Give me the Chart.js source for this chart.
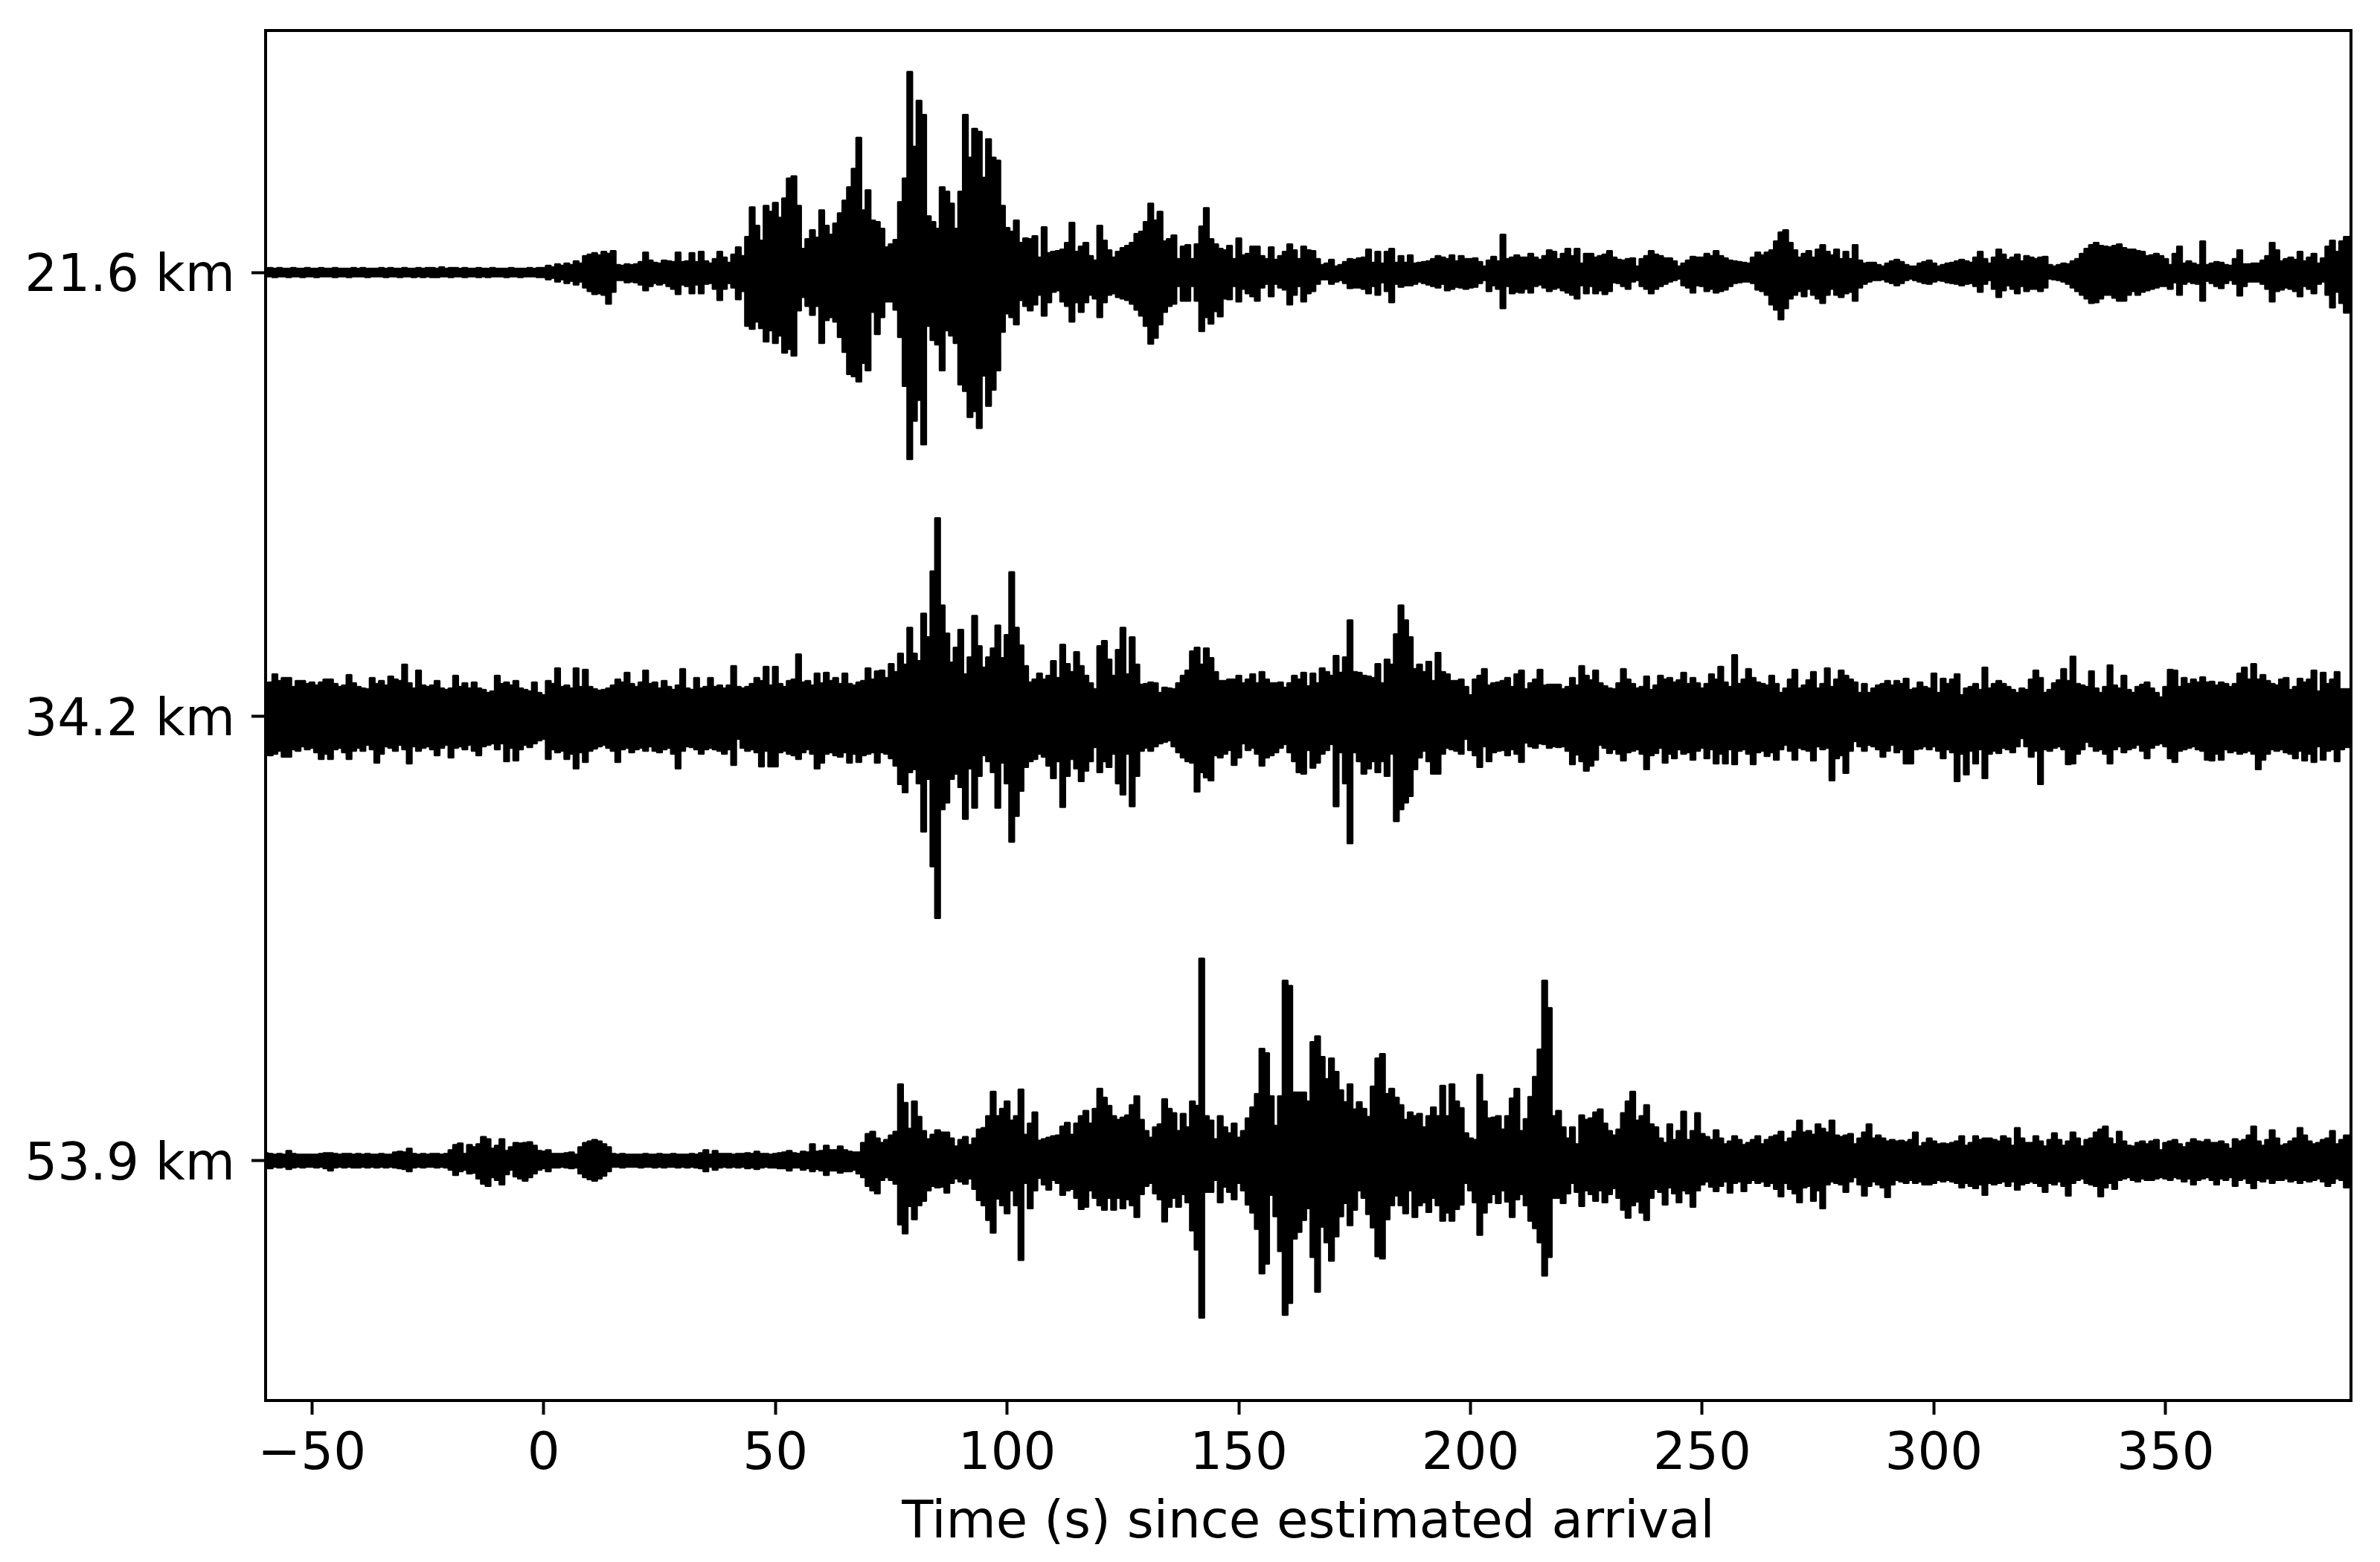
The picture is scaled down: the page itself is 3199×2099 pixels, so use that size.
<!DOCTYPE html>
<html>
<head>
<meta charset="utf-8">
<title>Waveforms</title>
<script src="https://cdn.jsdelivr.net/npm/chart.js@4"></script>
<style>
  html, body { margin: 0; padding: 0; background: #fff; }
  canvas { display: block; }
</style>
</head>
<body>
<canvas id="chart" width="3199" height="2099"></canvas>
<script>
// one sample per second, -60 s .. 389 s, ten values per row
const firstSecond = -60;
const distanceLabels = ['21.6 km', '34.2 km', '53.9 km'];
const traceOffsets = [1200, 600, 0];
const timeTicks = [-50, 0, 50, 100, 150, 200, 250, 300, 350];

const upper216 = [
  5,6,5,6,5,5,6,5,5,6, 5,5,6,5,5,6,5,5,5,6, 5,6,5,5,5,6,5,6,5,5,
  6,5,5,6,5,6,6,5,7,5, 6,6,5,6,5,5,6,5,5,6, 5,5,5,6,5,5,5,6,5,6,
  6,9,7,11,9,12,10,15,12,22,
  24,26,23,28,25,29,10,9,11,10,
  11,14,27,16,13,12,16,15,14,27,
  14,15,26,14,28,15,12,18,28,20,
  13,24,34,22,48,88,63,43,90,82,
  94,74,100,127,130,90,32,45,57,47,
  84,63,51,66,80,97,115,140,182,84,
  111,70,68,59,34,38,44,95,127,271,
  170,232,213,76,68,59,115,109,93,59,
  109,213,155,194,190,128,180,155,151,90,
  60,55,70,40,46,45,49,20,61,26,
  28,29,31,40,67,28,35,40,22,16,
  63,43,30,20,28,33,36,40,52,55,
  68,93,70,82,42,45,50,18,35,37,
  18,38,62,87,45,38,32,30,36,18,
  46,23,25,35,35,22,18,34,17,22,
  28,38,30,18,35,30,29,18,10,12,
  17,8,10,14,18,17,19,20,31,13,
  28,12,28,32,13,22,13,23,12,13,
  14,15,18,22,20,18,23,15,22,18,
  18,19,14,8,16,21,15,51,18,20,
  23,20,20,25,20,17,22,30,28,18,
  25,32,22,32,12,25,25,20,22,24,
  29,20,17,16,18,19,8,18,22,29,
  24,22,19,19,15,8,12,16,21,20,
  20,25,22,29,22,19,16,15,14,13,
  12,20,27,23,27,30,42,54,57,40,
  30,20,25,29,20,31,37,28,23,31,
  18,28,18,37,16,12,13,13,10,8,
  12,15,17,14,10,8,8,12,14,16,
  12,8,10,12,13,15,17,15,13,20,
  28,18,12,20,31,24,17,20,24,15,
  22,20,18,20,21,10,8,10,12,11,
  15,18,25,32,37,40,36,35,34,36,
  38,33,31,31,29,28,22,23,25,22,
  18,10,25,35,12,15,12,10,42,10,
  12,14,13,10,9,18,30,11,11,12,
  12,16,22,40,30,15,18,20,17,28,
  15,20,25,12,19,35,43,28,42,48
];
const lower216 = [
  5,5,6,5,5,6,5,5,6,5, 5,6,5,5,5,6,5,5,6,5, 5,5,6,5,5,5,6,5,5,6,
  5,5,6,5,6,5,6,6,5,5, 6,5,5,6,5,5,6,5,6,5, 5,5,6,5,5,6,5,5,5,6,
  6,9,7,12,9,14,11,16,12,20,
  25,29,28,30,42,26,10,10,13,12,
  13,16,24,18,14,16,14,18,22,29,
  16,18,28,16,28,15,14,22,37,22,
  14,20,36,25,72,76,66,75,93,78,
  95,85,108,103,112,51,33,45,57,45,
  95,64,60,66,87,107,137,140,147,122,
  132,53,83,60,39,39,50,87,153,252,
  200,172,232,72,91,97,132,78,85,95,
  151,160,195,187,210,139,180,158,132,80,
  55,60,70,37,45,51,43,30,58,40,
  26,24,39,45,66,40,53,40,30,35,
  60,40,30,28,33,35,37,42,50,58,
  72,96,88,70,53,45,42,18,38,38,
  18,38,79,60,69,52,59,35,36,18,
  39,22,28,32,38,20,15,32,15,20,
  23,43,30,18,39,28,25,15,9,9,
  15,12,10,14,21,20,20,22,28,18,
  30,13,25,40,15,19,17,17,15,12,
  14,16,18,20,15,24,22,19,20,22,
  20,19,14,10,25,17,22,48,18,28,
  26,27,22,27,18,16,20,25,22,20,
  24,27,30,35,17,28,18,28,24,29,
  25,13,14,18,22,12,10,18,22,28,
  22,18,15,12,10,8,17,20,27,17,
  18,25,22,27,25,23,18,14,13,12,
  12,14,23,25,30,43,50,63,48,35,
  30,25,32,22,30,35,41,30,22,30,
  33,28,26,38,20,15,12,10,10,9,
  12,14,17,14,10,8,10,12,14,15,
  12,10,11,13,14,15,17,15,14,18,
  26,15,10,22,33,24,17,22,28,18,
  25,22,22,25,20,8,9,10,12,15,
  20,25,30,35,41,40,35,30,30,34,
  38,38,30,25,30,26,24,22,20,18,
  18,22,13,30,15,12,14,15,38,11,
  14,18,21,14,10,15,31,18,12,12,
  12,15,22,39,25,23,20,22,25,32,
  18,22,28,15,12,30,47,26,41,54
];

const upper342 = [
  40,46,57,48,52,52,40,48,48,44,
  46,42,46,50,50,44,40,42,56,45,
  40,38,37,52,44,48,42,54,50,48,
  70,45,38,62,42,40,42,48,38,36,
  38,55,40,45,38,46,38,36,32,34,
  55,44,46,42,48,38,36,34,46,32,
  29,48,44,65,40,42,38,65,40,63,
  40,37,35,36,38,42,50,46,59,44,
  40,46,62,44,46,38,48,40,36,42,
  64,38,36,52,38,40,52,40,42,38,
  42,68,40,38,40,44,52,48,67,42,
  67,44,40,48,50,84,46,48,42,58,
  45,59,48,52,44,58,44,42,46,48,
  65,50,61,62,52,71,60,85,70,120,
  85,75,139,107,196,268,150,112,73,93,
  117,57,80,136,95,66,80,92,123,79,
  110,195,120,96,68,46,50,58,50,55,
  75,52,97,71,60,87,68,55,45,37,
  95,102,77,55,90,120,57,107,70,43,
  44,46,45,32,39,38,37,45,55,62,
  88,93,70,92,79,60,48,48,50,50,
  55,45,50,57,45,60,50,45,45,46,
  39,45,55,50,59,41,58,45,65,60,
  55,82,59,80,130,60,59,55,54,52,
  71,45,77,70,111,150,130,107,64,70,
  60,74,48,86,60,57,48,48,50,40,
  29,50,55,64,42,45,46,48,52,40,
  57,62,37,45,50,63,42,43,43,43,
  37,40,52,42,68,55,49,62,45,41,
  38,37,45,64,50,44,38,40,54,36,
  42,55,50,52,46,49,59,44,52,45,
  38,44,57,50,67,46,40,83,44,50,
  64,52,46,44,42,55,44,32,38,50,
  63,38,42,49,60,38,44,65,40,50,
  62,55,50,46,32,44,32,38,42,44,
  48,42,48,44,51,36,38,46,40,38,
  58,32,51,44,50,57,29,38,40,44,
  36,66,38,44,48,44,40,36,32,38,
  36,50,62,52,32,36,45,49,64,48,
  81,44,42,40,61,38,32,40,69,42,
  38,55,36,32,40,43,46,38,32,26,
  40,63,62,40,52,44,50,46,53,46,
  47,42,46,44,40,44,58,66,50,71,
  50,56,48,44,42,50,52,36,40,51,
  46,50,62,34,59,44,50,60,37,37
];
const lower342 = [
  42,52,50,46,54,54,44,46,40,44,
  42,48,57,50,57,44,42,48,57,46,
  42,46,38,44,62,50,40,42,46,38,
  44,63,40,46,42,40,44,52,42,38,
  55,42,40,44,38,46,52,40,38,36,
  44,36,60,42,59,44,38,41,36,32,
  30,57,44,48,46,57,50,70,48,61,
  46,43,40,38,42,46,61,44,42,48,
  44,42,46,40,46,48,44,42,50,70,
  46,40,41,44,50,44,42,44,46,50,
  44,65,30,42,46,44,48,67,46,67,
  67,48,46,50,52,57,48,44,50,70,
  62,50,48,52,54,48,62,50,61,52,
  50,48,62,48,50,56,66,91,102,75,
  71,90,155,84,202,272,125,116,84,77,
  95,138,70,123,80,52,60,75,123,62,
  90,169,134,100,68,60,57,50,54,66,
  83,60,122,80,57,70,87,73,60,41,
  75,60,68,50,90,105,50,121,80,46,
  42,46,40,36,34,32,40,48,55,60,
  62,101,75,82,86,52,55,50,45,65,
  55,36,45,42,50,66,55,52,48,42,
  37,48,60,75,77,45,69,62,50,45,
  37,121,48,90,171,48,60,77,70,60,
  75,60,80,50,141,125,116,107,71,55,
  46,60,77,77,50,42,44,46,50,30,
  45,52,68,40,60,48,46,45,52,44,
  50,61,35,40,42,36,37,42,40,41,
  40,46,64,51,60,73,66,58,38,42,
  49,44,50,59,48,46,44,50,71,52,
  49,42,62,50,56,44,50,48,58,46,
  42,56,44,63,50,63,44,64,46,44,
  50,64,48,46,53,48,58,44,38,46,
  58,42,44,46,59,40,44,42,86,56,
  52,76,46,33,40,46,38,40,44,54,
  46,38,48,44,63,63,44,43,40,44,
  40,46,56,44,48,87,50,78,46,63,
  44,83,50,46,49,42,44,48,40,29,
  40,54,46,91,44,46,42,40,44,64,
  63,50,44,34,40,46,44,50,63,44,
  40,48,44,42,38,46,56,42,38,36,
  40,56,61,46,44,42,40,44,46,58,
  59,50,58,44,48,46,50,48,46,50,
  71,58,50,44,46,44,48,50,56,46,
  59,50,61,40,58,46,44,60,44,41
];

const upper539 = [
  10,9,8,9,8,13,9,8,8,8,
  8,8,9,10,10,9,8,9,9,8,
  9,8,9,8,8,9,8,8,11,12,
  11,16,9,8,9,8,9,9,8,9,
  14,21,23,9,21,18,22,32,29,16,
  20,29,13,18,24,23,24,25,20,13,
  12,14,9,9,9,10,11,8,18,24,
  26,28,26,22,18,9,8,9,8,8,
  8,8,9,8,8,9,8,8,9,8,
  8,8,9,8,10,14,8,13,9,9,
  9,8,9,9,10,9,12,9,9,8,
  9,10,11,13,10,9,12,11,22,12,
  13,20,14,14,19,14,12,11,11,24,
  36,39,30,24,28,34,39,103,78,43,
  80,59,40,29,35,41,38,38,30,19,
  28,32,21,30,42,44,60,93,60,70,
  80,54,60,96,35,50,65,27,29,31,
  33,34,46,51,35,50,60,67,50,70,
  97,85,74,60,55,58,61,75,87,55,
  40,31,45,49,83,70,64,40,63,45,
  80,74,273,60,54,29,60,45,37,50,
  31,40,57,72,90,151,145,87,47,87,
  243,236,92,92,92,80,160,168,140,110,
  138,120,95,79,103,69,79,70,59,100,
  138,144,90,97,85,75,55,65,60,63,
  45,60,72,60,101,60,103,80,71,37,
  30,28,116,80,57,58,60,42,60,84,
  97,40,56,86,113,150,243,206,60,67,
  45,30,45,22,61,55,57,65,69,50,
  40,34,42,64,80,93,54,60,75,49,
  45,30,24,49,28,40,66,28,40,64,
  36,32,28,41,30,22,26,33,28,21,
  24,28,33,22,28,32,34,39,25,30,
  39,54,38,40,35,49,43,38,54,34,
  32,34,36,22,30,38,49,30,34,30,
  26,28,26,27,25,28,38,19,24,30,
  26,22,23,22,24,26,33,20,24,33,
  28,30,30,28,26,33,30,20,44,30,
  24,24,33,26,19,28,37,28,20,26,
  38,30,19,28,30,38,42,46,30,22,
  39,26,20,19,24,26,22,26,28,14,
  24,26,28,22,18,24,29,26,25,28,
  24,24,26,22,16,29,26,28,34,46,
  26,20,28,41,30,20,22,26,30,44,
  34,26,22,24,28,30,40,22,28,34
];
const lower539 = [
  9,10,8,9,8,11,9,8,9,8,
  8,9,8,10,13,9,8,9,8,9,
  9,8,9,8,9,8,9,8,9,10,
  11,14,9,8,9,8,8,9,8,9,
  12,19,14,12,17,16,24,31,34,22,
  26,32,18,12,21,24,27,22,17,12,
  10,14,9,9,8,9,10,9,17,22,
  25,27,24,20,14,8,8,9,8,8,
  8,9,8,8,9,8,9,8,8,9,
  8,9,8,9,10,14,8,12,9,8,
  9,8,9,8,10,9,11,9,8,9,
  9,10,10,13,9,9,12,10,14,11,
  13,19,13,13,16,14,14,12,17,22,
  34,40,44,26,22,26,31,86,98,61,
  79,60,54,40,34,36,35,43,30,24,
  28,31,24,38,53,60,80,97,51,60,
  71,40,60,134,30,64,40,23,32,39,
  26,30,46,40,38,50,65,62,40,50,
  60,66,50,66,50,64,52,60,76,45,
  34,30,44,52,82,62,50,62,45,56,
  94,120,212,42,42,26,56,35,42,52,
  30,40,59,70,92,152,139,46,75,122,
  208,192,105,96,80,64,130,177,89,110,
  135,102,75,57,87,66,40,50,72,90,
  129,132,79,60,47,60,71,40,76,60,
  56,69,50,60,81,70,81,65,59,30,
  40,56,100,70,56,45,57,40,55,76,
  52,45,60,81,91,110,155,130,50,50,
  57,44,30,42,61,40,45,54,40,56,
  45,37,50,66,77,60,55,70,80,50,
  38,42,59,36,44,56,40,44,62,40,
  32,28,35,41,34,28,43,30,28,41,
  30,26,30,28,34,30,38,48,30,38,
  44,56,36,34,54,40,64,32,28,30,
  32,42,28,22,32,47,34,28,32,36,
  49,32,26,28,30,26,30,28,32,32,
  30,26,28,26,28,30,36,30,34,37,
  32,46,30,32,30,28,34,28,39,32,
  30,28,30,34,42,30,32,28,34,47,
  30,26,24,30,32,34,48,36,30,38,
  26,24,22,26,28,24,26,26,24,22,
  24,26,22,24,28,24,32,26,24,22,
  26,32,24,26,22,34,26,24,30,37,
  26,28,24,30,26,26,24,28,26,30,
  26,28,26,24,28,34,30,24,26,36
];

const envelopes = [[upper216, lower216], [upper342, lower342], [upper539, lower539]];

function envelopePoints(values, offset, sign) {
  const pts = values.map((v, i) => ({ x: firstSecond + i, y: offset + sign * v }));
  // hold the last sample to the right edge of the axis
  pts.push({ x: firstSecond + values.length, y: offset + sign * values[values.length - 1] });
  return pts;
}

const datasets = [];
envelopes.forEach(([up, down], k) => {
  const base = { borderColor: '#000', backgroundColor: '#000', borderWidth: 3, pointRadius: 0,
    stepped: 'middle', borderJoinStyle: 'round', borderCapStyle: 'round' };
  datasets.push({ ...base, data: envelopePoints(up, traceOffsets[k], 1), fill: '+1' });
  datasets.push({ ...base, data: envelopePoints(down, traceOffsets[k], -1), fill: false });
});

const framePlugin = {
  id: 'frame',
  afterDatasetsDraw(chart) {
    const { left, top, width, height } = chart.chartArea;
    const ctx = chart.ctx;
    ctx.save();
    ctx.strokeStyle = '#000';
    ctx.lineWidth = 4;
    ctx.strokeRect(left, top, width, height);
    ctx.restore();
  }
};

Chart.defaults.font.family = '"DejaVu Sans"';
Chart.defaults.color = '#000';

new Chart(document.getElementById('chart'), {
  type: 'line',
  data: { datasets },
  plugins: [framePlugin],
  options: {
    responsive: false,
    devicePixelRatio: 1,
    animation: false,
    layout: { padding: { top: 41, right: 39, left: 0, bottom: 0 } },
    plugins: { legend: { display: false }, tooltip: { enabled: false } },
    scales: {
      x: {
        type: 'linear',
        min: -60,
        max: 390,
        afterBuildTicks(scale) { scale.ticks = timeTicks.map(value => ({ value })); },
        afterFit(scale) { scale.height = 217; },
        grid: { drawOnChartArea: false, drawTicks: true, tickLength: 19, tickWidth: 4, tickColor: '#000' },
        border: { display: false },
        ticks: {
          font: { size: 69 }, padding: 14, maxRotation: 0, autoSkip: false,
          callback: v => (v < 0 ? '\u2212' + Math.abs(v) : String(v))
        },
        title: { display: true, text: 'Time (s) since estimated arrival', font: { size: 69 }, padding: { top: 4, bottom: 10 } }
      },
      y: {
        type: 'linear',
        min: -324,
        max: 1527,
        afterBuildTicks(scale) { scale.ticks = traceOffsets.map(value => ({ value })); },
        afterFit(scale) { scale.width = 357; scale.paddingTop = 0; scale.paddingBottom = 0; },
        grid: { drawOnChartArea: false, drawTicks: true, tickLength: 19, tickWidth: 4, tickColor: '#000' },
        border: { display: false },
        ticks: {
          font: { size: 69 }, padding: 22, autoSkip: false, labelOffset: 7,
          callback: v => distanceLabels[traceOffsets.indexOf(v)]
        }
      }
    }
  }
});
</script>
</body>
</html>
